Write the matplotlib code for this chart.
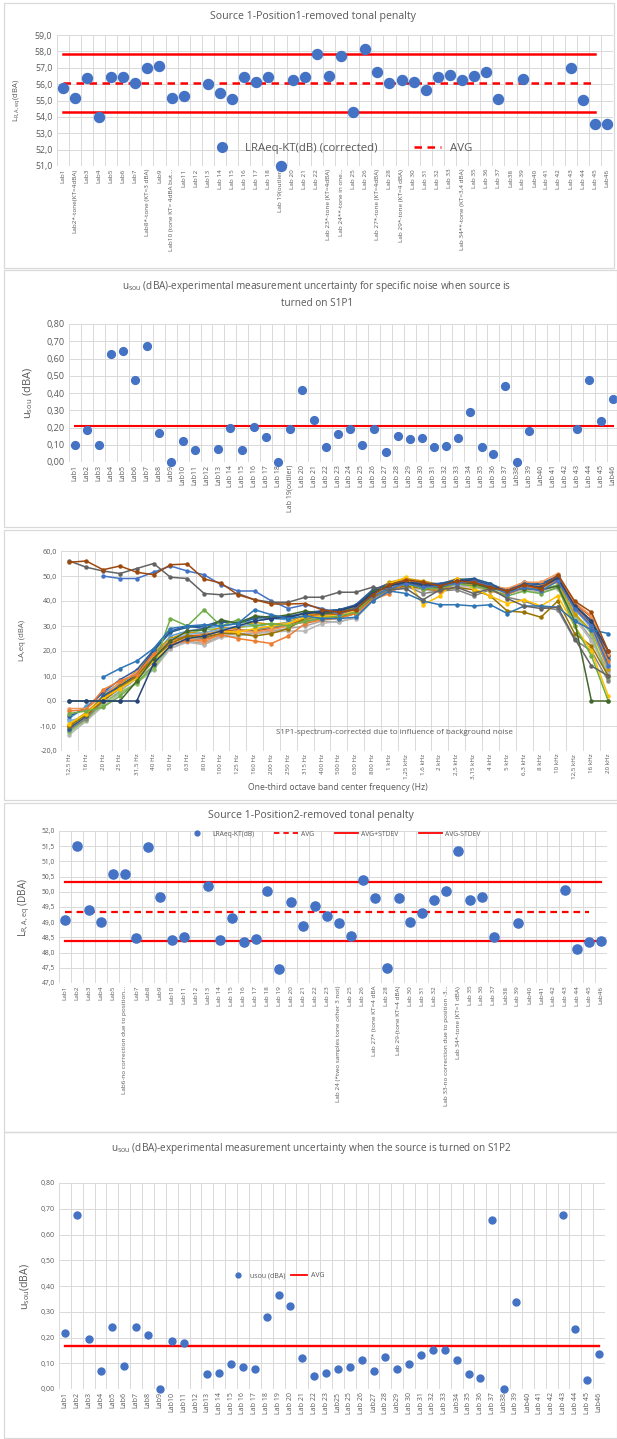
import numpy as np
import matplotlib
matplotlib.use('Agg')
import matplotlib.pyplot as plt
from matplotlib.ticker import FixedLocator, FuncFormatter
from matplotlib.lines import Line2D
from matplotlib.patches import Rectangle

plt.rcParams['font.family'] = ['Open Sans', 'DejaVu Sans']
plt.rcParams['mathtext.default'] = 'regular'

nan = np.nan
TXT = '#595959'
BLUE = '#4472C4'
RED = '#FF0000'
GRID = '#D9D9D9'

# ---------------- Panel 1 data ----------------
labels_p1 = ["Lab1", "Lab2*-tone(KT=4dBA)", "Lab3", "Lab4", "Lab5", "Lab6", "Lab7",
             "Lab8*-tone (KT=3 dBA)", "Lab9", "Lab10 (tone KT= 4dBA but...", "Lab11", "Lab12",
             "Lab13", "Lab 14", "Lab 15", "Lab 16", "Lab 17", "Lab 18", "Lab 19(outlier)",
             "Lab 20", "Lab 21", "Lab 22", "Lab 23*-tone (KT=4dBA)", "Lab 24**-tone in one...",
             "Lab 25", "Lab 26", "Lab 27*-tone (KT=4dBA)", "Lab 28", "Lab 29*-tone (KT=4 dBA)",
             "Lab 30", "Lab 31", "Lab 32", "Lab 33", "Lab 34**-tone (KT=3,4 dBA)", "Lab 35",
             "Lab 36", "Lab 37", "Lab38", "Lab 39", "Lab40", "Lab 41", "Lab 42", "Lab 43",
             "Lab 44", "Lab 45", "Lab46"]
lraeq_p1 = [55.78, 55.13, 56.35, 54.01, 56.42, 56.45, 56.09, 56.98, 57.13, 55.13, 55.25, nan,
            56.03, 55.48, 55.07, 56.45, 56.15, 56.42, 51.02, 56.25, 56.45, 57.82, 56.5, 57.7,
            54.32, 58.13, 56.76, 56.09, 56.25, 56.1, 55.64, 56.42, 56.54, 56.25, 56.5, 56.76,
            55.09, nan, 56.33, nan, nan, nan, 56.98, 55.01, 53.55, 53.55]
avg_p1 = 56.06
upper_p1 = 57.84
lower_p1 = 54.28

# ---------------- Panel 2 data ----------------
labels_p2 = ["Lab1", "Lab2", "Lab3", "Lab4", "Lab5", "Lab6", "Lab7", "Lab8", "Lab9", "Lab10",
             "Lab11", "Lab12", "Lab13", "Lab 14", "Lab 15", "Lab 16", "Lab 17", "Lab 18",
             "Lab 19(outlier)", "Lab 20", "Lab 21", "Lab 22", "Lab 23", "Lab 24", "Lab 25",
             "Lab 26", "Lab 27", "Lab 28", "Lab 29", "Lab 30", "Lab 31", "Lab 32", "Lab 33",
             "Lab 34", "Lab 35", "Lab 36", "Lab 37", "Lab38", "Lab 39", "Lab40", "Lab 41",
             "Lab 42", "Lab 43", "Lab 44", "Lab 45", "Lab46"]
usou_p2 = [0.097, 0.188, 0.097, 0.625, 0.641, 0.476, 0.672, 0.169, 0.0, 0.124, 0.068, nan,
           0.074, 0.196, 0.068, 0.202, 0.146, 0.0, 0.192, 0.417, 0.243, 0.087, 0.163, 0.19,
           0.099, 0.19, 0.06, 0.151, 0.134, 0.142, 0.085, 0.095, 0.142, 0.291, 0.085, 0.047,
           0.439, 0.0, 0.181, nan, nan, nan, 0.19, 0.478, 0.239, 0.365]
avg_p2 = 0.208

# ---------------- Panel 3 data (spectra) ----------------
bands = ["12,5 Hz", "16 Hz", "20 Hz", "25 Hz", "31,5 Hz", "40 Hz", "50 Hz", "63 Hz", "80 Hz",
         "100 Hz", "125 Hz", "160 Hz", "200 Hz", "250 Hz", "315 Hz", "400 Hz", "500 Hz",
         "630 Hz", "800 Hz", "1 kHz", "1,25 kHz", "1,6 kHz", "2 kHz", "2,5 kHz", "3,15 kHz",
         "4 kHz", "5 kHz", "6,3 kHz", "8 kHz", "10 kHz", "12,5 kHz", "16 kHz", "20 kHz"]
spec_a = [-12.0, -7.0, -1.0, 4.0, 9.0, 14.0, 21.0, 24.0, 23.0, 26.0, 27.0, 27.0, 28.0, 29.0, 30.0, 32.0, 31.5, 33.5, 41.0, 44.5, 46.0, 45.0, 44.5, 46.5, 46.0, 45.0, 43.5, 45.0, 44.0, 46.0, 34.0, 25.0, 12.0]
spec_b = [-7.0, -2.0, 3.0, 7.0, 11.0, 18.0, 26.0, 28.0, 29.0, 30.0, 31.0, 32.0, 33.0, 32.5, 34.0, 34.5, 35.0, 37.0, 43.0, 46.0, 47.0, 46.5, 46.0, 48.0, 48.5, 47.0, 44.0, 46.5, 45.0, 48.0, 36.5, 30.0, 15.0]
spec_c = [-13.5, -8.0, -2.0, 3.0, 7.5, 12.5, 21.0, 23.5, 22.5, 25.5, 26.0, 27.0, 27.5, 28.0, 28.0, 31.0, 32.0, 33.0, 40.0, 44.0, 45.5, 44.5, 43.5, 46.0, 45.5, 44.0, 43.0, 44.5, 43.5, 45.0, 33.0, 24.0, 11.0]
spec_d = [-12.5, -7.5, -1.0, 3.5, 7.0, 13.0, 22.5, 27.0, 28.5, 29.0, 29.5, 30.0, 31.0, 30.5, 32.5, 33.5, 33.0, 35.0, 41.0, 45.5, 46.5, 45.5, 44.5, 47.0, 46.5, 45.5, 43.0, 45.5, 44.5, 46.5, 34.5, 27.0, 9.0]
spec_e = [-9.5, -4.5, 1.5, 6.5, 12.0, 19.5, 25.0, 27.5, 27.0, 29.5, 29.0, 31.5, 30.5, 31.5, 34.5, 35.0, 35.5, 37.5, 43.5, 47.5, 49.0, 48.0, 46.5, 49.0, 48.0, 46.5, 44.5, 46.0, 45.5, 47.5, 35.0, 28.0, 13.0]
spec_f = [-8.0, -6.0, 0.5, 5.5, 11.0, 17.5, 24.5, 26.5, 27.5, 28.5, 30.0, 30.5, 29.5, 31.5, 33.0, 34.0, 35.0, 36.5, 42.5, 45.5, 46.5, 46.0, 45.5, 47.5, 47.5, 46.0, 44.5, 46.5, 46.0, 48.5, 37.0, 29.0, 14.0]
spec_g = [-6.0, -3.0, 3.5, 8.5, 12.5, 20.5, 28.0, 30.0, 29.0, 31.5, 31.5, 33.5, 33.0, 34.0, 35.0, 36.0, 36.5, 38.5, 44.5, 47.0, 48.0, 47.0, 47.0, 48.5, 48.0, 46.5, 44.5, 47.5, 47.0, 50.0, 38.5, 32.0, 18.0]
spec_h = [-10.5, -6.5, 1.0, 6.0, 10.0, 18.5, 24.0, 26.0, 26.5, 28.0, 28.5, 28.0, 29.0, 30.0, 33.5, 35.0, 34.5, 37.0, 42.5, 46.5, 48.0, 47.0, 46.0, 48.0, 47.0, 45.5, 44.0, 46.0, 45.0, 49.5, 39.0, 33.5, 18.5]
spec_i = [-11.5, -7.0, 0.0, 5.0, 9.5, 15.5, 22.0, 24.5, 25.0, 27.0, 28.0, 28.5, 29.5, 30.5, 31.5, 33.0, 33.5, 35.0, 41.0, 44.5, 46.0, 43.0, 44.0, 44.5, 42.0, 44.5, 41.5, 40.0, 37.5, 36.5, 24.5, 20.0, 8.0]
spec_j = [-3.0, -3.0, 2.0, 7.5, 11.5, 18.0, 24.0, 25.0, 23.5, 27.0, 28.0, 27.5, 28.5, 30.0, 32.0, 33.0, 33.5, 35.5, 42.5, 46.0, 47.0, 46.5, 45.0, 47.0, 47.5, 46.0, 45.0, 47.5, 47.5, 51.0, 39.5, 34.0, 19.0]
spec_k = [-11.0, -6.0, 2.0, 6.0, 10.5, 20.0, 27.5, 29.5, 30.0, 32.0, 31.0, 33.0, 34.0, 33.0, 35.5, 36.0, 36.5, 38.0, 44.0, 46.5, 47.5, 47.0, 46.5, 48.5, 49.0, 47.0, 43.5, 47.0, 46.5, 49.5, 37.5, 31.0, 17.0]
spec_l = [-10.0, -5.5, 0.0, 5.5, 10.0, 17.0, 23.0, 26.0, 25.5, 27.0, 27.0, 26.0, 27.0, 29.0, 33.0, 34.0, 33.5, 35.0, 41.5, 45.0, 46.0, 45.0, 44.0, 45.5, 44.5, 42.0, 36.0, 35.5, 33.5, 40.0, 27.0, 22.0, 10.0]
spec_m = [-9.0, -5.0, 1.0, 5.0, 9.0, 16.0, 22.0, 25.0, 26.0, 28.0, 27.5, 29.0, 30.0, 31.0, 33.5, 34.0, 34.0, 36.0, 42.0, 47.0, 49.5, 38.5, 42.0, 49.0, 45.0, 42.0, 39.0, 40.5, 38.0, 42.0, 30.0, 20.0, 2.0]
spec_n = [-4.0, -3.5, 4.5, 8.0, 10.5, 19.0, 23.0, 24.0, 24.5, 26.5, 25.0, 24.0, 23.0, 26.0, 31.0, 32.5, 33.0, 35.0, 40.5, 43.0, 47.5, 45.5, 44.0, 47.5, 46.5, 44.0, 42.5, 45.5, 46.0, 48.0, 38.0, 30.0, 16.0]
spec_o = [-5.0, -4.0, -2.5, 2.0, 7.5, 14.0, 33.0, 30.0, 36.5, 30.0, 32.5, 30.0, 31.0, 30.0, 32.0, 33.0, 34.0, 35.5, 42.0, 45.0, 47.0, 45.0, 45.0, 47.0, 46.0, 44.5, 42.0, 44.0, 43.0, 45.5, 30.0, 18.0, 0.0]
spec_p = [0.0, 0.0, 0.0, 0.0, 8.0, 17.0, 24.0, 28.0, 28.5, 32.5, 31.0, 34.0, 33.5, 34.5, 36.0, 35.0, 35.5, 37.0, 43.5, 46.5, 47.0, 46.0, 45.5, 47.5, 47.0, 45.0, 44.0, 45.0, 44.5, 46.0, 32.0, 0.0, 0.0]
spec_q = [0.0, 0.0, 0.0, 0.0, 0.0, 15.0, 22.0, 25.0, 26.0, 28.0, 30.0, 32.0, 33.0, 33.5, 35.0, 35.5, 36.0, 38.0, 43.0, 46.0, 47.5, 46.5, 46.0, 48.0, 48.5, 46.0, 44.0, 46.5, 45.5, 49.0, 38.0, 32.0, 20.0]
spec_r = [nan, nan, 9.5, 13.0, 16.0, 21.0, 29.0, 30.0, 30.5, 30.0, 31.0, 36.5, 34.5, 33.0, 34.0, 33.0, 33.0, 33.5, 40.0, 44.0, 43.0, 40.0, 38.5, 38.5, 38.0, 38.5, 35.0, 38.0, 38.0, 37.5, 32.0, 28.5, 27.0]
spec_s = [nan, nan, 50.0, 49.0, 49.0, 51.5, 54.0, 52.0, 50.5, 46.5, 44.0, 44.0, 40.0, 37.0, 38.5, 37.0, 35.0, 37.0, 42.0, 45.0, 47.0, 45.5, 46.0, 47.0, 48.0, 46.0, 43.0, 45.5, 44.0, 48.0, 37.0, 30.0, 14.0]
spec_t = [56.0, 53.5, 52.0, 51.0, 53.0, 55.0, 49.5, 49.0, 43.0, 42.5, 43.0, 40.5, 39.5, 39.5, 41.5, 41.5, 43.5, 43.5, 45.5, 44.5, 45.0, 40.5, 44.5, 45.5, 43.0, 45.0, 41.0, 38.0, 37.0, 37.5, 25.0, 14.0, 10.0]
spec_u = [55.5, 56.0, 52.5, 54.0, 51.5, 50.5, 54.5, 54.8, 48.8, 47.2, 42.5, 40.5, 38.8, 38.8, 39.0, 36.5, 35.5, 36.5, 42.5, 46.5, 48.5, 47.5, 46.0, 48.0, 47.5, 45.5, 44.0, 46.5, 45.0, 50.5, 40.0, 35.5, 20.0]
spec_series = [spec_a, spec_b, spec_c, spec_d, spec_e, spec_f, spec_g, spec_h, spec_i, spec_j,
               spec_k, spec_l, spec_m, spec_n, spec_o, spec_p, spec_q, spec_r, spec_s, spec_t, spec_u]
spec_colors = ['#A5A5A5', '#5B9BD5', '#B7B7B7', '#8CC168', '#CC9A00', '#7CAFDD', '#335AA1',
               '#D26012', '#848484', '#F1975A', '#255E91', '#997300', '#FFC000', '#ED7D31',
               '#70AD47', '#43682B', '#264478', '#2E75B6', '#4472C4', '#636363', '#9E480E']

# ---------------- Panel 4 data ----------------
labels_p4 = ["Lab1", "Lab2", "Lab3", "Lab4", "Lab5", "Lab6-no correction due to position...",
             "Lab7", "Lab8", "Lab9", "Lab10", "Lab11", "Lab12", "Lab13", "Lab 14", "Lab 15",
             "Lab 16", "Lab 17", "Lab 18", "Lab 19", "Lab 20", "Lab 21", "Lab 22", "Lab 23",
             "Lab 24 (*two samples tone other 3 not)", "Lab 25", "Lab 26",
             "Lab 27* (tone KT=4 dBA", "Lab 28", "Lab 29-(tone KT=4 dBA)", "Lab 30", "Lab 31",
             "Lab 32", "Lab 33-no correction due to position -3...", "Lab 34*-tone (KT=1 dBA)",
             "Lab 35", "Lab 36", "Lab 37", "Lab38", "Lab 39", "Lab40", "Lab41", "Lab 42",
             "Lab 43", "Lab 44", "Lab 45", "Lab46"]
lraeq_p4 = [49.08, 51.51, 49.4, 49.02, 50.57, 50.57, 48.47, 51.46, 49.84, 48.4, 48.51, nan,
            50.2, 48.42, 49.13, 48.34, 48.46, 50.03, 47.47, 49.66, 48.86, 49.53, 49.19, 48.96,
            48.53, 50.38, 49.79, 47.49, 49.79, 49.02, 49.31, 49.73, 50.02, 51.33, 49.72, 49.84,
            48.5, nan, 48.97, nan, nan, nan, 50.06, 48.13, 48.34, 48.37]
avg_p4 = 49.34
upper_p4 = 50.32
lower_p4 = 48.37

# ---------------- Panel 5 data ----------------
labels_p5 = ["Lab1", "Lab2", "Lab3", "Lab4", "Lab5", "Lab6", "Lab7", "Lab8", "Lab9", "Lab10",
             "Lab11", "Lab12", "Lab13", "Lab 14", "Lab 15", "Lab 16", "Lab 17", "Lab 18",
             "Lab 19", "Lab 20", "Lab 21", "Lab 22", "Lab 23", "Lab25", "Lab 25", "Lab 26",
             "Lab27", "Lab 28", "Lab29", "Lab 30", "Lab 31", "Lab 32", "Lab 33", "Lab34",
             "Lab 35", "Lab 36", "Lab 37", "Lab38", "Lab 39", "Lab40", "Lab 41", "Lab 42",
             "Lab 43", "Lab 44", "Lab 45", "Lab46"]
usou_p5 = [0.219, 0.674, 0.195, 0.069, 0.24, 0.088, 0.24, 0.21, 0.0, 0.187, 0.18, nan, 0.06,
           0.062, 0.097, 0.087, 0.077, 0.279, 0.364, 0.324, 0.119, 0.049, 0.062, 0.079, 0.086,
           0.112, 0.069, 0.126, 0.077, 0.097, 0.131, 0.153, 0.15, 0.114, 0.057, 0.044, 0.655,
           0.0, 0.339, nan, nan, nan, 0.674, 0.233, 0.036, 0.136]
avg_p5 = 0.167

# ---------------- Layout helpers ----------------
W, H = 617, 1439
fig = plt.figure(figsize=(W / 100, H / 100), dpi=100)
fig.patch.set_facecolor('white')


def px_axes(l, r, t, b):
    return fig.add_axes([l / W, 1 - b / H, (r - l) / W, (b - t) / H])


def ftext(x, y, s, **kw):
    kw.setdefault('color', TXT)
    kw.setdefault('ha', 'center')
    kw.setdefault('va', 'center')
    fig.text(x / W, 1 - y / H, s, **kw)


def border(l, r, t, b):
    fig.patches.append(Rectangle((l / W, 1 - b / H), (r - l) / W, (b - t) / H,
                                 transform=fig.transFigure, fill=False, ec=GRID, lw=0.9))


def cat_axes(ax, labels, ylim, ystep, ndec, xfs, yfs):
    n = len(labels)
    ax.set_xlim(-0.5, n - 0.5)
    ax.set_ylim(*ylim)
    ax.set_xticks(range(n))
    ax.set_xticklabels(labels, rotation=90, fontsize=xfs, color=TXT)
    ax.xaxis.set_minor_locator(FixedLocator(np.arange(-0.5, n, 1.0)))
    yt = np.arange(ylim[0], ylim[1] + ystep / 2, ystep)
    ax.set_yticks(yt)
    ax.yaxis.set_major_formatter(FuncFormatter(lambda v, p: f"{v:.{ndec}f}".replace('.', ',')))
    ax.tick_params(axis='y', labelsize=yfs, labelcolor=TXT, length=0, pad=3)
    ax.tick_params(axis='x', which='both', length=0, pad=2)
    ax.grid(True, axis='y', which='major', color=GRID, lw=0.7)
    ax.grid(True, axis='x', which='minor', color=GRID, lw=0.7)
    ax.set_axisbelow(True)
    for s in ax.spines.values():
        s.set_visible(False)
    ax.set_facecolor('none')


# borders
border(4, 614, 3, 268)
border(4, 617, 270, 527)
border(4, 617, 530, 800)
border(4, 617, 803, 1132)
border(4, 617, 1132, 1438)

# ---------------- Panel 1 ----------------
ax1 = px_axes(56.6, 613.4, 35, 166)
cat_axes(ax1, labels_p1, (51, 59), 1, 1, 4.6, 6.3)
x1 = np.arange(len(labels_p1))
span1 = x1[:labels_p1.index("Lab 45") + 1]
ax1.plot(span1, [upper_p1] * len(span1), color=RED, lw=1.8, zorder=2)
ax1.plot(span1, [lower_p1] * len(span1), color=RED, lw=1.8, zorder=2)
ax1.plot(span1, [avg_p1] * len(span1), color=RED, lw=1.8, dashes=(3, 2.2), zorder=2)
ax1.plot(x1, lraeq_p1, 'o', color=BLUE, ms=7.2, mec=BLUE, zorder=3, clip_on=False)
h1 = [Line2D([], [], ls='none', marker='o', color=BLUE, ms=7),
      Line2D([], [], color=RED, lw=1.8, dashes=(3, 2.2))]
ax1.legend(h1, ["LRAeq-KT(dB) (corrected)", "AVG"], loc='center', ncol=2,
           bbox_to_anchor=(0.51, 0.135), frameon=False, fontsize=8.2, labelcolor=TXT,
           columnspacing=3.2, handlelength=2.4, handletextpad=0.8)
ftext(313, 17, "Source 1-Position1-removed tonal penalty", fontsize=7.6)
ftext(17, 100, "L$_{R,A,eq}$(dBA)", fontsize=5.6, rotation=90)

# ---------------- Panel 2 ----------------
ax2 = px_axes(69, 619, 324, 462)
cat_axes(ax2, labels_p2, (0, 0.8), 0.1, 2, 5.0, 6.6)
x2 = np.arange(len(labels_p2))
ax2.plot(x2, [avg_p2] * len(x2), color=RED, lw=1.5, zorder=2)
ax2.plot(x2, usou_p2, 'o', color=BLUE, ms=5.6, zorder=3, clip_on=False)
ftext(317, 286, "u$_{sou}$ (dBA)-experimental measurement uncertainty for specific noise when source is",
      fontsize=7.2)
ftext(317, 303, "turned on S1P1", fontsize=7.2)
ftext(28, 393, "u$_{sou}$ (dBA)", fontsize=8, rotation=90)

# ---------------- Panel 3 ----------------
ax3 = px_axes(61, 616.7, 551, 751)
cat_axes(ax3, bands, (-20, 60), 10, 1, 4.5, 5.2)
x3 = np.arange(len(bands))
for vals, col in zip(spec_series, spec_colors):
    ax3.plot(x3, vals, '-o', color=col, lw=1.1, ms=2.2, zorder=2)
ax3.text(0.60, 0.095, "S1P1-spectrum-corrected due to influence of background noise",
         transform=ax3.transAxes, ha='center', va='center', fontsize=5.8, color=TXT)
ftext(338, 788, "One-third octave band center frequency (Hz)", fontsize=6.2)
ftext(22, 640, "LA,eq (dBA)", fontsize=5.6, rotation=90)

# ---------------- Panel 4 ----------------
ax4 = px_axes(59, 607, 831, 983)
cat_axes(ax4, labels_p4, (47, 52), 0.5, 1, 4.6, 4.8)
x4 = np.arange(len(labels_p4))
span4 = x4[:labels_p4.index("Lab 45") + 1]
ax4.plot(x4, [upper_p4] * len(x4), color=RED, lw=1.6, zorder=2)
ax4.plot(x4, [lower_p4] * len(x4), color=RED, lw=1.6, zorder=2)
ax4.plot(span4, [avg_p4] * len(span4), color=RED, lw=1.6, dashes=(3, 2.2), zorder=2)
ax4.plot(x4, lraeq_p4, 'o', color=BLUE, ms=6.6, zorder=3, clip_on=False)
h4 = [Line2D([], [], ls='none', marker='o', color=BLUE, ms=3.5),
      Line2D([], [], color=RED, lw=1.3, dashes=(3, 2.2)),
      Line2D([], [], color=RED, lw=1.3),
      Line2D([], [], color=RED, lw=1.3)]
ax4.legend(h4, ["LRAeq-KT(dB)", "AVG", "AVG+STDEV", "AVG-STDEV"], loc='center', ncol=4,
           bbox_to_anchor=(0.50, 0.98), frameon=False, fontsize=4.9, labelcolor=TXT,
           columnspacing=3.0, handlelength=3.4, handletextpad=0.5)
ftext(311, 816, "Source 1-Position2-removed tonal penalty", fontsize=7.6)
ftext(24, 907, "L$_{R,A,eq}$ (DBA)", fontsize=7.2, rotation=90)

# ---------------- Panel 5 ----------------
ax5 = px_axes(59, 605, 1183, 1389)
cat_axes(ax5, labels_p5, (0, 0.8), 0.1, 2, 5.0, 5.0)
x5 = np.arange(len(labels_p5))
ax5.plot(x5, [avg_p5] * len(x5), color=RED, lw=1.7, zorder=2)
ax5.plot(x5, usou_p5, 'o', color=BLUE, ms=5.0, zorder=3, clip_on=False)
h5 = [Line2D([], [], ls='none', marker='o', color=BLUE, ms=3.5),
      Line2D([], [], color=RED, lw=1.3)]
ax5.legend(h5, ["usou (dBA)", "AVG"], loc='center', ncol=2,
           bbox_to_anchor=(0.40, 0.55), frameon=False, fontsize=5.0, labelcolor=TXT,
           columnspacing=0.9, handlelength=2.2, handletextpad=0.6)
ftext(311, 1148, "u$_{sou}$ (dBA)-experimental measurement uncertainty when the source is turned on S1P2",
      fontsize=7.2)
ftext(25, 1287, "u$_{sou}$(dBA)", fontsize=7.6, rotation=90)

fig.savefig('out.png', dpi=100, facecolor='white')
